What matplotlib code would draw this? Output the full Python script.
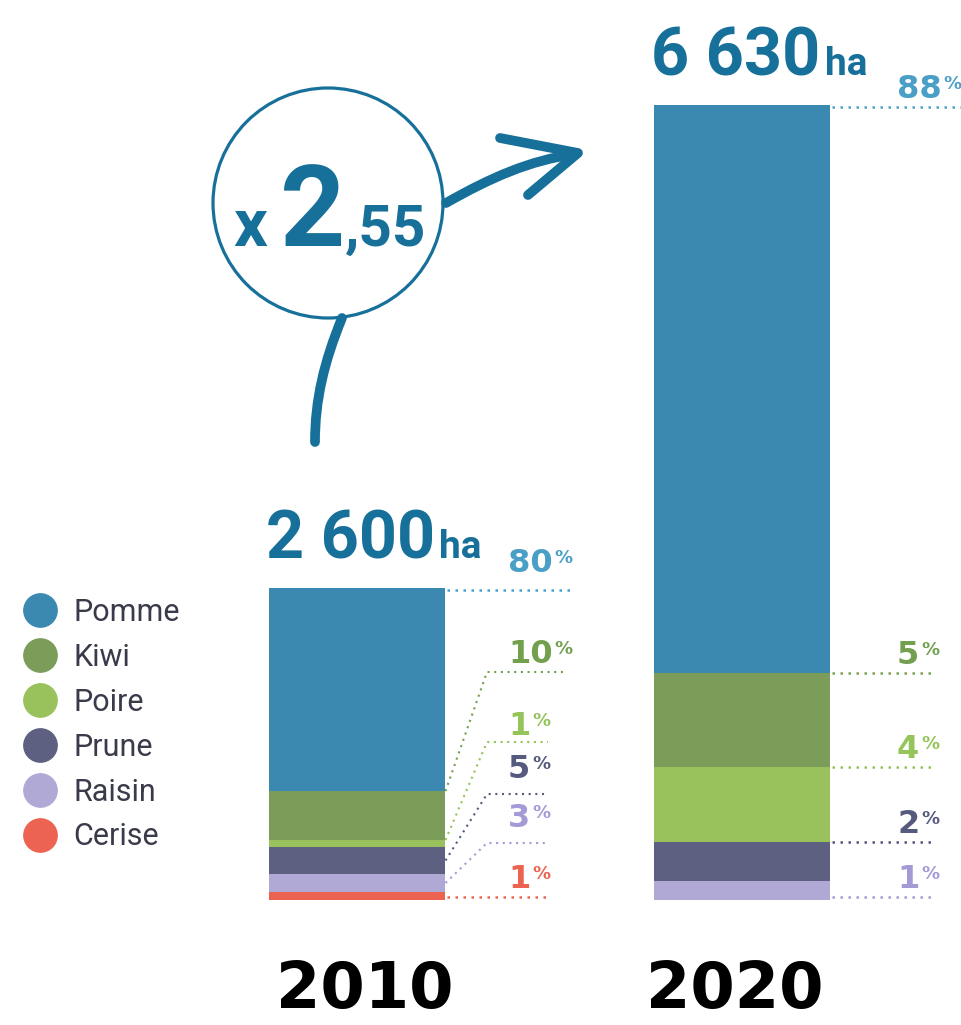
import numpy as np
import matplotlib
matplotlib.use('Agg')
import matplotlib.pyplot as plt
from matplotlib.font_manager import FontProperties
from matplotlib.patches import Circle, PathPatch
from matplotlib.path import Path
from matplotlib.lines import Line2D

# --- données ---
years = ['2010', '2020']
totals = [2600, 6630]
fruits = ['Pomme', 'Kiwi', 'Poire', 'Prune', 'Raisin', 'Cerise']
# surfaces par fruit (ha), de haut en bas dans la barre
surf_2010 = [1692, 408, 58, 225, 150, 67]
surf_2020 = [4737, 784, 625, 325, 159, 0]
pct_2010 = ['80', '10', '1', '5', '3', '1']
pct_2020 = ['88', '5', '4', '2', '1']

colors = ['#3b89b0', '#7b9d59', '#9ac25c', '#5d6080', '#b0a9d6', '#ec6451']
lab_colors = ['#4a9fc7', '#72a04f', '#94c45a', '#565a7e', '#a49ad6', '#ec6451']
blue = '#17709a'

W, H = 961, 1025
head_kw = dict(family='Roboto', weight='bold')

fig = plt.figure(figsize=(W / 100, H / 100), dpi=100)
fig.patch.set_facecolor('white')

# axe principal : x = catégories, y = hectares
ax = fig.add_axes([0, 0, 1, 1])
ax.set_xlim(-0.927, 1.569)
ax.set_ylim(-1042.5, 7505.7)
ax.axis('off')

# calque en pixels pour les annotations
ov = fig.add_axes([0, 0, 1, 1])
ov.set_xlim(0, W)
ov.set_ylim(H, 0)
ov.axis('off')
ov.patch.set_alpha(0)

x = np.arange(len(years))
width = 0.455
surfs = np.array([surf_2010, surf_2020], dtype=float)   # (année, fruit)
above = np.concatenate([np.zeros((2, 1)), np.cumsum(surfs, axis=1)[:, :-1]], axis=1)
tops = np.array(totals, dtype=float)[:, None] - above

for i, fruit in enumerate(fruits):
    ax.bar(x, surfs[:, i], width, bottom=tops[:, i] - surfs[:, i],
           color=colors[i], linewidth=0, label=fruit)


def to_px(xd, yd):
    d = ax.transData.transform((xd, yd))
    return d[0], H - d[1]


# --- étiquettes de pourcentage 2010 ---
dot = (0, (1, 2.2))
right10, _ = to_px(x[0] + width / 2, 0)
anchor_frac10 = [0, 0, 0, 0.5, 0.5, 1]
line_y10 = [None, 672, 742, 794, 843, None]
line_end10 = [572, 565, 548, 548, 548, 548]
gap10 = [18, 9, 7, 16, 16, 9]
elbow_x = 487
pct_texts = []
for i, p in enumerate(pct_2010):
    _, ay = to_px(x[0], tops[0, i] - anchor_frac10[i] * surfs[0, i])
    c = lab_colors[i]
    if line_y10[i] is None:
        ly = ay + (2 if i == 0 else -3)
        ov.plot([right10 + 2, line_end10[i]], [ly, ly], color=c, lw=1.8, ls=dot)
    else:
        ly = line_y10[i]
        ov.plot([right10 + 1, elbow_x, line_end10[i]], [ay, ly, ly], color=c, lw=1.5, ls=dot)
    t = ov.text(508, ly - gap10[i], p, color=c, fontsize=23, weight='bold',
                family='DejaVu Sans', va='baseline', ha='left')
    pct_texts.append((t, c, ly - gap10[i]))

# --- étiquettes de pourcentage 2020 ---
right20, _ = to_px(x[1] + width / 2, 0)
anchor_frac20 = [0, 0, 0, 0, 1]
line_end20 = [961, 934, 934, 934, 934]
for i, p in enumerate(pct_2020):
    _, ly = to_px(x[1], tops[1, i] - anchor_frac20[i] * surfs[1, i])
    if i == 0:
        ly += 2
    if i == 4:
        ly -= 3
    c = lab_colors[i]
    ov.plot([right20 + 2, line_end20[i]], [ly, ly], color=c, lw=1.8, ls=dot)
    t = ov.text(897, ly - 9, p, color=c, fontsize=23, weight='bold',
                family='DejaVu Sans', va='baseline', ha='left')
    pct_texts.append((t, c, ly - 9))

# --- totaux au-dessus des barres ---
head_texts = []
for j, tot in enumerate(totals):
    s = f'{tot:,}'.replace(',', ' ')
    t = ax.annotate(s, xy=(x[j] - width / 2, tot), xytext=(-3, 30),
                    textcoords='offset pixels', va='baseline', ha='left',
                    color=blue, fontsize=48, **head_kw)
    _, base = to_px(x[j] - width / 2, tot)
    head_texts.append((t, base - 30))

# --- années ---
year_dx = [8, -7]
for j, yr in enumerate(years):
    ax.annotate(yr, xy=(x[j], 0), xytext=(year_dx[j], -108), textcoords='offset pixels',
                ha='center', va='baseline', fontsize=46, weight='bold',
                family='DejaVu Sans', color='black')

# --- cercle x 2,55 et flèches ---
ratio = f'{totals[1] / totals[0]:.2f}'.replace('.', ',')
ov.add_patch(Circle((328, 203), 115, fill=False, lw=2.3, color=blue))
curve_top = Path([(446, 203), (490, 178), (530, 160), (576, 154)],
                 [Path.MOVETO, Path.CURVE4, Path.CURVE4, Path.CURVE4])
ov.add_patch(PathPatch(curve_top, fill=False, lw=7, color=blue, capstyle='round'))
ov.plot([500, 578, 528], [138, 153, 195], color=blue, lw=7,
        solid_capstyle='round', solid_joinstyle='round')
curve_bot = Path([(342, 318), (324, 362), (315, 400), (315, 442)],
                 [Path.MOVETO, Path.CURVE4, Path.CURVE4, Path.CURVE4])
ov.add_patch(PathPatch(curve_bot, fill=False, lw=7, color=blue, capstyle='round'))

tx = ov.text(0, 246, 'x', color=blue, fontsize=48, va='baseline', ha='left', **head_kw)
t2 = ov.text(0, 246, ratio[0], color=blue, fontsize=82, va='baseline', ha='left', **head_kw)
t55 = ov.text(0, 246, ratio[1:], color=blue, fontsize=42, va='baseline', ha='left', **head_kw)

# --- légende ---
handles = [Line2D([], [], marker='o', ls='', markersize=24, color=c) for c in colors]
ov.legend(handles, fruits, loc='upper left', bbox_to_anchor=(22 / W, 1 - 598 / H),
          bbox_transform=fig.transFigure, frameon=False,
          prop=FontProperties(family='Roboto', size=22), labelcolor='#3a3b4a',
          handlelength=1.2, handletextpad=0.47, labelspacing=0.52,
          borderpad=0, borderaxespad=0)

# --- placements qui dépendent de la largeur du texte ---
fig.canvas.draw()
r = fig.canvas.get_renderer()

for t, c, base in pct_texts:
    bb = t.get_window_extent(r)
    top = base - 0.729 * 23 * 100 / 72
    ov.text(bb.x1 + 2, top, '%', color=c, fontsize=13, weight='bold',
            family='DejaVu Sans', va='top', ha='left')

for t, base in head_texts:
    bb = t.get_window_extent(r)
    ov.text(bb.x1 + 4, base, 'ha', color=blue, fontsize=28,
            va='baseline', ha='left', **head_kw)

wx = tx.get_window_extent(r).width
w2 = t2.get_window_extent(r).width
w55 = t55.get_window_extent(r).width
gap = 12
start = 330 - (wx + gap + w2 + w55) / 2
tx.set_x(start)
t2.set_x(start + wx + gap)
t55.set_x(start + wx + gap + w2)

fig.savefig('out.png', dpi=100)
